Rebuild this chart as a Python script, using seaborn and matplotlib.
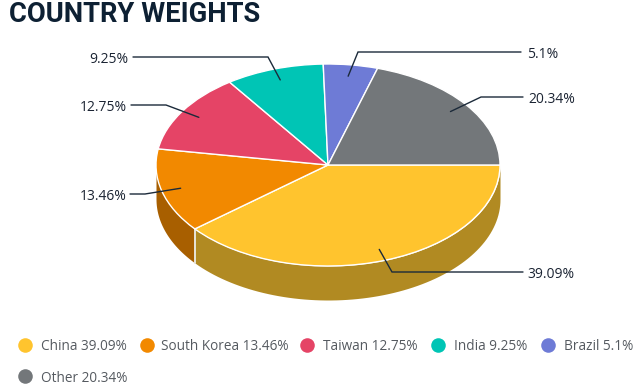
import matplotlib
matplotlib.use("Agg")
import matplotlib.pyplot as plt
import numpy as np
import seaborn as sns

countries = ["China", "South Korea", "Taiwan", "India", "Brazil", "Other"]
weights = [39.09, 13.46, 12.75, 9.25, 5.1, 20.34]
weight_labels = ["39.09%", "13.46%", "12.75%", "9.25%", "5.1%", "20.34%"]
top_colors = ["#FFC42E", "#F28900", "#E54466", "#00C5B5", "#6E7BD6", "#73777A"]
side_colors = ["#B18A22", "#A85F00", "#A03047", "#008A7F", "#4D5696", "#515355"]

# pie geometry in pixels of the 640x388 figure
CX, CY, RX, RY, DEPTH = 328, 165, 172, 101, 34

# leader lines: elbow x, elbow y, line end x, label x
leaders = [
    (392, 272, 523, 527),
    (145, 194, 130, 127),
    (166, 105, 131, 127),
    (268, 57, 133, 128),
    (358, 52, 521, 527),
    (481, 97, 523, 528),
]

# legend rows: marker x, text x, y
legend_pos = [
    (25, 41, 345),
    (147, 161, 345),
    (307, 323, 345),
    (438, 454, 345),
    (548, 564, 345),
    (25, 41, 376),
]

sns.set_theme(style="white")
plt.rcParams["font.family"] = ["Open Sans", "DejaVu Sans"]
sns.set_palette(top_colors)

fig = plt.figure(figsize=(6.4, 3.88), dpi=100)

# pie axes, stretched so that the unit circle becomes the ellipse
ax = fig.add_axes([0, 0, 1, 1])
ax.axis("off")

cum = np.cumsum([0] + weights) / sum(weights) * 360
for i in range(len(weights)):
    # only the front half of the rim is visible
    a0, a1 = cum[i], min(cum[i + 1], 180)
    if a0 >= 180:
        continue
    t = np.radians(np.linspace(a0, a1, 80))
    ax.fill_between(np.cos(t), -np.sin(t), -np.sin(t) - DEPTH / RY,
                    color=side_colors[i], lw=0, zorder=1)
    if a0 > 0:
        x0 = np.cos(t[0])
        y0 = -np.sin(t[0])
        ax.plot([x0, x0], [y0, y0 - DEPTH / RY], color="#E8E4D8", lw=1.4, zorder=2)

wedges, _ = ax.pie(weights, colors=sns.color_palette(n_colors=6), startangle=0, counterclock=False,
                   wedgeprops={"edgecolor": "white", "linewidth": 1, "zorder": 3})
ax.set_aspect("auto")
ax.set_xlim(-CX / RX, (640 - CX) / RX)
ax.set_ylim((CY - 388) / RY, CY / RY)

# overlay axes in pixels for the leaders, labels and legend
over = fig.add_axes([0, 0, 1, 1], zorder=5)
over.set_xlim(0, 640)
over.set_ylim(388, 0)
over.axis("off")
over.patch.set_alpha(0)

mids = np.radians((cum[:-1] + cum[1:]) / 2)
for i, (ex, ey, lx, tx) in enumerate(leaders):
    sx = CX + 0.887 * RX * np.cos(mids[i])
    sy = CY + 0.887 * RY * np.sin(mids[i])
    over.plot([sx, ex, lx], [sy, ey, ey], color="#1B2A3A", lw=1, solid_joinstyle="miter")
    ha = "left" if tx > CX else "right"
    over.text(tx, ey + 2.5, weight_labels[i], ha=ha, va="center", fontsize=10, color="#1B2433")

for i, (mx, tx, y) in enumerate(legend_pos):
    over.scatter([mx], [y], s=110, color=top_colors[i], lw=0)
    over.text(tx, y + 2, f"{countries[i]} {weight_labels[i]}", ha="left", va="center",
              fontsize=9.8, color="#555A60")

over.text(9, 15, "COUNTRY WEIGHTS", ha="left", va="center", fontsize=19.7,
          fontweight="bold", family=["Roboto", "DejaVu Sans"], color="#0D2033")

fig.savefig("out.png", dpi=100)
